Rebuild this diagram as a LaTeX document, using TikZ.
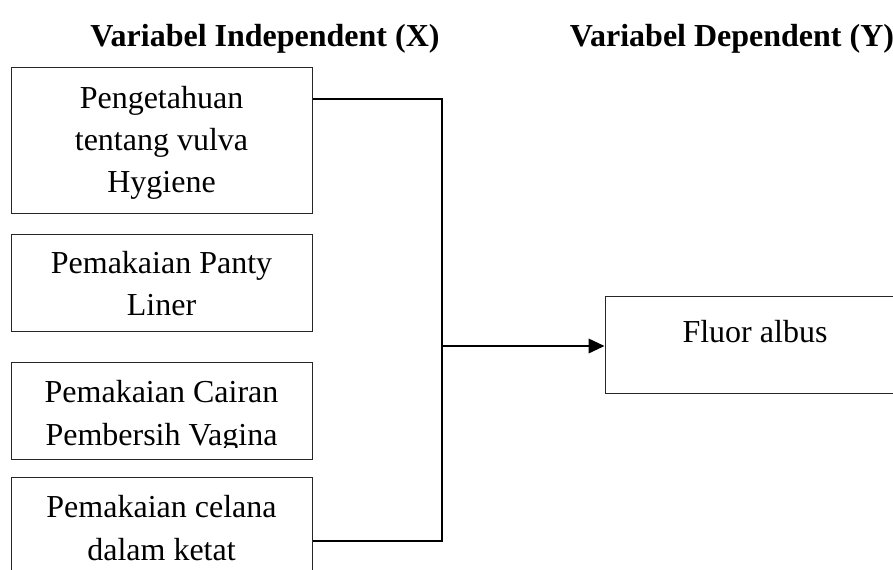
\documentclass[tikz,border=0pt]{standalone}
\usepackage{fontspec}
\setmainfont{Liberation Serif}
\usetikzlibrary{arrows.meta,calc}
\begin{document}
\begin{tikzpicture}[x=0.75pt,y=-0.75pt,
  box/.style={draw=black!85,line width=0.75pt,rectangle,inner sep=0pt,minimum width=225.75pt},
  lbl/.style={anchor=base,inner sep=0pt,font=\fontsize{24}{31.5}\selectfont},
  ttl/.style={anchor=base,inner sep=0pt,font=\fontsize{24}{31.5}\selectfont\bfseries},
  conn/.style={draw=black,line width=1.3pt},
  arr/.style={-{Triangle[length=12pt,width=11pt]}}]
\useasboundingbox (0,0) rectangle (893,569);
% titles
\node[ttl] (tx) at (265,46) {Variabel Independent (X)};
\node[ttl] (ty) at (732,46) {Variabel Dependent (Y)};
% boxes
\node[box,minimum height=109.5pt] (b1) at (161.5,140) {};
\node[box,minimum height=72.75pt] (b2) at (161.5,282.5) {};
\node[box,minimum height=72.75pt] (b3) at (161.5,410.5) {};
\node[box,minimum height=84.75pt] (b4) at (161.5,533.5) {};
\node[box,minimum width=225pt,minimum height=72.75pt] (f) at (755,344.5) {};
% labels
\node[lbl] (t1a) at (161.5,108) {Pengetahuan};
\node[lbl] (t1b) at (161.5,150) {tentang vulva};
\node[lbl] (t1c) at (161.5,192) {Hygiene};
\node[lbl] (t2a) at (161.5,273) {Pemakaian Panty};
\node[lbl] (t2b) at (161.5,315) {Liner};
\node[lbl] (t3a) at (161.5,402) {Pemakaian Cairan};
\begin{scope}
  \clip (12,420) rectangle (311,447);
  \node[lbl] (t3b) at (161.5,445) {Pembersih Vagina};
\end{scope}
\node[lbl] (t4a) at (161.5,517) {Pemakaian celana};
\node[lbl] (t4b) at (161.5,560) {dalam ketat};
\node[lbl] (tf) at (755,342) {Fluor albus};
% connectors
\coordinate (y1) at (0,99);
\coordinate (y4) at (0,541);
\coordinate (j) at (442,346);
\draw[conn] (b1.east |- y1) -| (j) |- (b4.east |- y4);
\draw[conn,arr] (j) -- (j -| f.west);
\end{tikzpicture}
\end{document}
